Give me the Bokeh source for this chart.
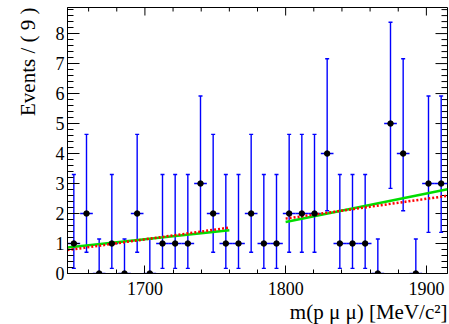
from math import pi
from bokeh.plotting import figure
from bokeh.models import Range1d, LinearAxis, SingleIntervalTicker, Title, ColumnDataSource
from bokeh.embed import file_html
from bokeh.resources import INLINE

# ---- data ----
bin_width = 9.0
bin_centers = [1649.5, 1658.5, 1667.5, 1676.5, 1685.5, 1694.5, 1703.5, 1712.5, 1721.5, 1730.5,
               1739.5, 1748.5, 1757.5, 1766.5, 1775.5, 1784.5, 1793.5, 1802.5, 1811.5, 1820.5,
               1829.5, 1838.5, 1847.5, 1856.5, 1865.5, 1874.5, 1883.5, 1892.5, 1901.5, 1910.5]
counts = [1, 2, 0, 1, 0, 2, 0, 1, 1, 1, 3, 2, 1, 1, 2, 1, 1, 2, 2, 2, 4, 1, 1, 1, 0, 5, 4, 0, 3, 3]
err_low = [0.17, 0.71, 0, 0.17, 0, 0.71, 0, 0.17, 0.17, 0.17, 1.37, 0.71, 0.17, 0.17, 0.71,
           0.17, 0.17, 0.71, 0.71, 0.71, 2.09, 0.17, 0.17, 0.17, 0, 2.84, 2.09, 0, 1.37, 1.37]
err_high = [3.30, 4.64, 1.15, 3.30, 1.15, 4.64, 1.15, 3.30, 3.30, 3.30, 5.92, 4.64, 3.30, 3.30, 4.64,
            3.30, 3.30, 4.64, 4.64, 4.64, 7.16, 3.30, 3.30, 3.30, 1.15, 8.38, 7.16, 1.15, 5.92, 5.92]

green1_x = [1645, 1760]
green1_y = [0.87, 1.44]
green2_x = [1800, 1915]
green2_y = [1.72, 2.81]
red1_x = [1645, 1760]
red1_y = [0.78, 1.53]
red2_x = [1800, 1915]
red2_y = [1.83, 2.59]

x_major_ticks = [1700, 1800, 1900]
x_minor_ticks = [1660, 1680, 1720, 1740, 1760, 1780, 1820, 1840, 1860, 1880]
y_major_ticks = [0, 1, 2, 3, 4, 5, 6, 7, 8]
y_minor_ticks = [v / 5 for v in range(0, 45) if v % 5 != 0]

y_title = "Events / ( 9 )"
x_title = "m(p \u03bc \u03bc) [MeV/c\u00b2]"

X_MIN, X_MAX = 1645, 1915
Y_MIN, Y_MAX = 0, 8.87
FONT = "Liberation Serif"

p = figure(width=449, height=324, x_range=Range1d(X_MIN, X_MAX), y_range=Range1d(Y_MIN, Y_MAX),
           output_backend="svg", toolbar_location=None,
           x_axis_type=None, y_axis_type=None,
           min_border_left=67, min_border_right=2, min_border_top=7, min_border_bottom=51)
p.outline_line_color = "black"
p.outline_line_width = 1
p.background_fill_color = "white"
p.border_fill_color = "white"


def style_axis(ax, major_in, minor_in, standoff):
    ax.major_tick_in, ax.minor_tick_in = major_in, minor_in
    ax.major_tick_out = 0
    ax.minor_tick_out = 0
    ax.major_label_standoff = standoff
    ax.axis_line_color = "black"
    ax.major_tick_line_color = "black"
    ax.minor_tick_line_color = "black"
    ax.major_label_text_font = FONT
    ax.major_label_text_font_size = "18px"
    ax.major_label_text_color = "black"
    return ax


xax = style_axis(LinearAxis(ticker=SingleIntervalTicker(interval=100, num_minor_ticks=5)), 8, 4, 8)
yax = style_axis(LinearAxis(ticker=SingleIntervalTicker(interval=1, num_minor_ticks=5)), 12, 6, 3)
p.add_layout(xax, "below")
p.add_layout(yax, "left")

# axis titles (ROOT style: aligned to the end of the axis)
p.add_layout(Title(text=x_title, align="right", text_font=FONT, text_font_size="21px",
                   text_font_style="normal", text_color="black", standoff=0), "below")
p.add_layout(Title(text=y_title, align="right", text_font=FONT, text_font_size="21px",
                   text_font_style="normal", text_color="black", standoff=25), "left")

# mirrored ticks on top and right edges (half of each dash lies inside the frame)
p.scatter(x=[X_MAX] * len(y_major_ticks), y=y_major_ticks, marker="dash", size=24,
          line_color="black", line_width=1)
p.scatter(x=[X_MAX] * len(y_minor_ticks), y=y_minor_ticks, marker="dash", size=12,
          line_color="black", line_width=1)
p.scatter(x=x_major_ticks, y=[Y_MAX] * len(x_major_ticks), marker="dash", angle=pi / 2, size=16,
          line_color="black", line_width=1)
p.scatter(x=x_minor_ticks, y=[Y_MAX] * len(x_minor_ticks), marker="dash", angle=pi / 2, size=8,
          line_color="black", line_width=1)

half = bin_width / 2
src = ColumnDataSource(dict(
    x=bin_centers, y=counts, lo=err_low, hi=err_high,
    xl=[c - half for c in bin_centers], xr=[c + half for c in bin_centers]))

BLUE = "#0000ff"
p.segment(x0="x", y0="lo", x1="x", y1="hi", source=src, line_color=BLUE, line_width=1.4)
p.segment(x0="xl", y0="y", x1="xr", y1="y", source=src, line_color=BLUE, line_width=1.4)
p.scatter(x="x", y="hi", source=src, marker="dash", size=4, line_color=BLUE, line_width=1.4)
p.scatter(x="x", y="lo", source=src, marker="dash", size=4, line_color=BLUE, line_width=1.4)

p.line(green1_x, green1_y, line_color="#00dd00", line_width=2.5)
p.line(green2_x, green2_y, line_color="#00dd00", line_width=2.5)
p.line(red1_x, red1_y, line_color="#ff0000", line_width=2.5, line_dash="2 2")
p.line(red2_x, red2_y, line_color="#ff0000", line_width=2.5, line_dash="2 2")

p.scatter(x="x", y="y", source=src, marker="circle", size=5.5, fill_color="black", line_color="black")

open("out.html", "w").write(file_html(p, INLINE))
